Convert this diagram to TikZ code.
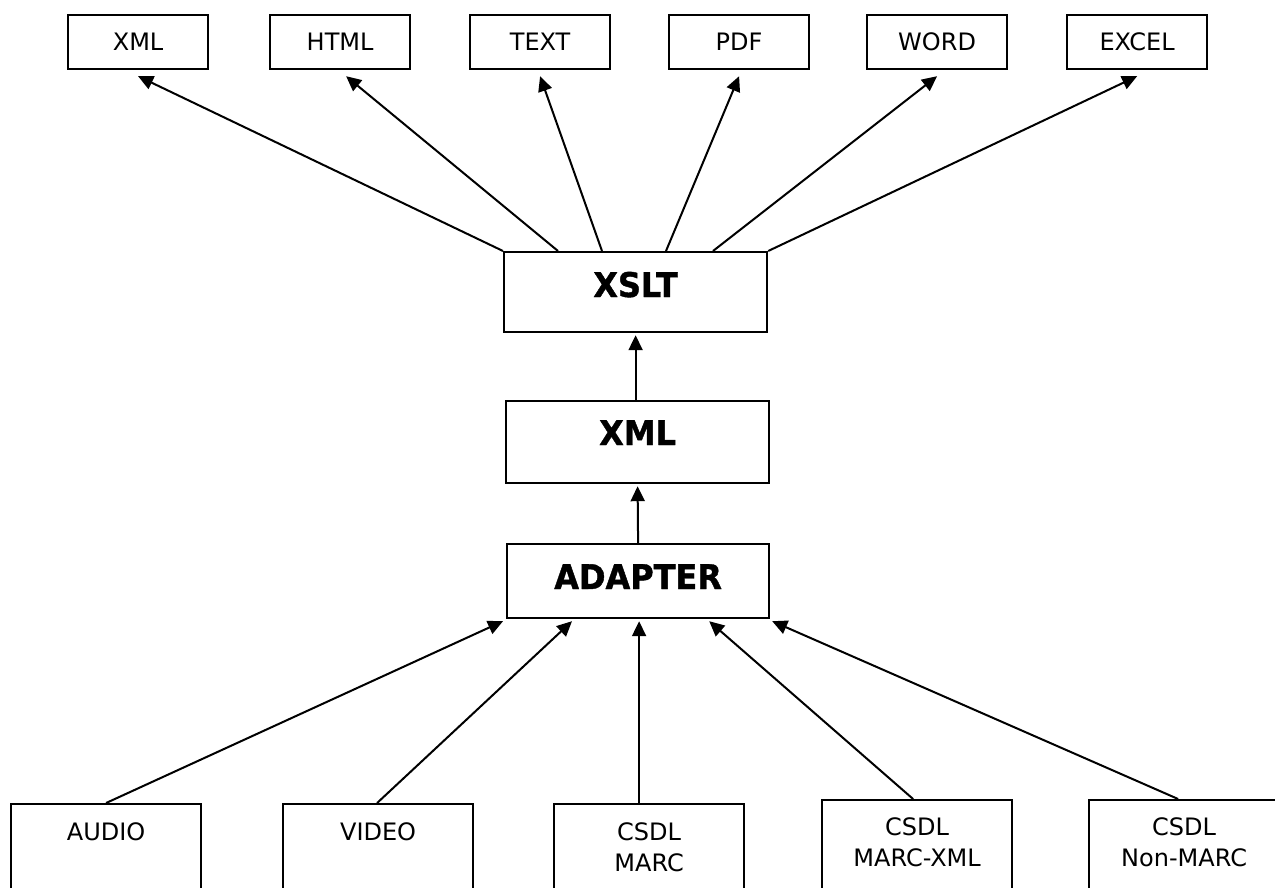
\documentclass[tikz,border=0pt]{standalone}
\usepackage{fontspec}
\setmainfont{DejaVu Sans}
\newfontfamily\boldfam{DejaVu Sans}[FakeStretch=0.94, FakeBold=1.2]
\usetikzlibrary{arrows.meta}
\begin{document}
\begin{tikzpicture}[x=1pt,y=-1pt,
  box/.style={draw, line width=2.2pt, inner sep=0pt, anchor=north west},
  topbox/.style={box, minimum width=140pt, minimum height=54pt,
    font=\fontsize{24pt}{31pt}\selectfont, text height=17.5pt, text depth=0pt},
  midbox/.style={box, minimum width=263pt},
  botbox/.style={box, minimum width=190pt, minimum height=120pt},
  lbl/.style={font=\fontsize{24pt}{31pt}\selectfont, anchor=north, inner sep=0pt, align=center},
  blbl/.style={font=\boldfam\bfseries\fontsize{34pt}{40pt}\selectfont, anchor=base, inner sep=0pt},
  arr/.style={line width=2pt, -{Triangle[length=15pt,width=14pt]}}]
\useasboundingbox (0,0) rectangle (1275,888);
\clip (0,0) rectangle (1275,888);

% top row
\node[topbox] (t1) at (67,14) {XML};
\node[topbox] (t2) at (269,14) {HTML};
\node[topbox] (t3) at (469,14) {TEXT};
\node[topbox] (t4) at (668,14) {PDF};
\node[topbox] (t5) at (866,14) {WORD};
\node[topbox] (t6) at (1066,14) {EXCEL};

% middle column
\node[midbox, minimum height=80pt] (xslt) at (503,251) {};
\node[blbl] (xsltl) at ([yshift=-46pt]xslt.north) {XSLT};
\node[midbox, minimum height=82pt] (xmlm) at (505,400) {};
\node[blbl] (xmlml) at ([yshift=-45pt]xmlm.north) {XML};
\node[midbox, minimum height=74pt, minimum width=262pt] (adapter) at (506,543) {};
\node[blbl] (adapterl) at ([yshift=-46pt]adapter.north) {ADAPTER};

% bottom row
\node[botbox] (audio) at (10,803) {};
\node[lbl] (audiol) at ([yshift=-19pt]audio.north) {AUDIO};
\node[botbox] (video) at (282,803) {};
\node[lbl] (videol) at ([yshift=-19pt]video.north) {VIDEO};
\node[botbox] (marc) at (553,803) {};
\node[lbl] (marcl) at ([yshift=-19pt]marc.north) {CSDL\\MARC};
\node[botbox] (marcxml) at (821,799) {};
\node[lbl] (marcxmll) at ([yshift=-18.5pt]marcxml.north) {CSDL\\MARC-XML};
\node[botbox] (nonmarc) at (1088,799) {};
\node[lbl] (nonmarcl) at ([yshift=-18.5pt]nonmarc.north) {CSDL\\Non-MARC};

% arrows to outputs
\draw[arr] (xslt.north west) -- ([yshift=-6pt]t1.south);
\draw[arr] ([xshift=55pt]xslt.north west) -- ([xshift=6pt,yshift=-6pt]t2.south);
\draw[arr] ([xshift=99pt]xslt.north west) -- ([yshift=-6pt]t3.south);
\draw[arr] ([xshift=163pt]xslt.north west) -- ([yshift=-6pt]t4.south);
\draw[arr] ([xshift=210pt]xslt.north west) -- ([yshift=-6pt]t5.south);
\draw[arr] (xslt.north east) -- ([yshift=-6pt]t6.south);

% middle arrows
\draw[arr] ([xshift=-2pt]xmlm.north) -- ([yshift=-2pt]xslt.south);
\draw[arr] (adapter.north) -- ([yshift=-2pt]xmlm.south);

% inputs to adapter
\draw[arr] (audio.north) -- ([xshift=-3pt,yshift=-2pt]adapter.south west);
\draw[arr] ([xshift=-1pt]video.north) -- ([xshift=66pt,yshift=-2pt]adapter.south west);
\draw[arr] ([xshift=-10pt]marc.north) -- ([xshift=1pt,yshift=-2pt]adapter.south);
\draw[arr] ([xshift=-4pt]marcxml.north) -- ([xshift=-61pt,yshift=-2pt]adapter.south east);
\draw[arr] ([xshift=-6pt]nonmarc.north) -- ([xshift=2pt,yshift=-2pt]adapter.south east);
\end{tikzpicture}
\end{document}
